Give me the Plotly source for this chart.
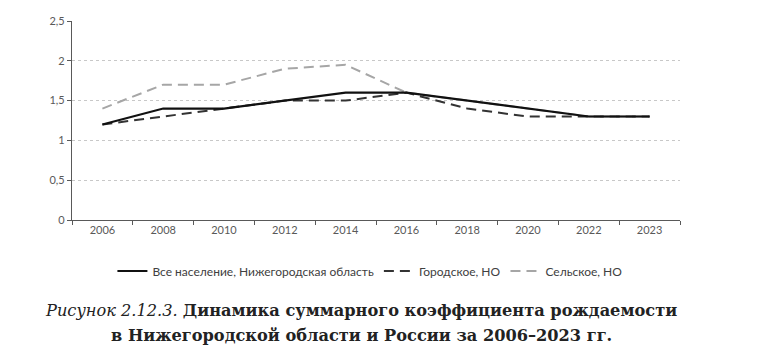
import plotly.graph_objects as go

years = ["2006", "2008", "2010", "2012", "2014", "2016", "2018", "2020", "2022", "2023"]
all_pop = [1.2, 1.4, 1.4, 1.5, 1.6, 1.6, 1.5, 1.4, 1.3, 1.3]
urban = [1.2, 1.3, 1.4, 1.5, 1.5, 1.6, 1.4, 1.3, 1.3, 1.3]
rural = [1.4, 1.7, 1.7, 1.9, 1.95, 1.6, 1.5, 1.4, 1.3, 1.3]
y_ticks = [0, 0.5, 1, 1.5, 2, 2.5]

W, H = 760, 358
L, R, T, B = 72, 80, 21, 138
PW, PH = W - L - R, H - T - B


def px(xf):
    return (xf - L) / PW


def py(yf):
    return (H - B - yf) / PH


fig = go.Figure()
fig.add_trace(go.Scatter(x=years, y=rural, mode="lines", name="Сельское, НО",
                         line=dict(color="#a6a6a6", width=2, dash="10px,6px"), legendrank=3))
fig.add_trace(go.Scatter(x=years, y=urban, mode="lines", name="Городское, НО",
                         line=dict(color="#333333", width=2, dash="10px,6px"), legendrank=2))
fig.add_trace(go.Scatter(x=years, y=all_pop, mode="lines", name="Все население, Нижегородская область",
                         line=dict(color="#111111", width=2.2), legendrank=1))

fig.update_layout(
    width=W, height=H,
    margin=dict(l=L, r=R, t=T, b=B),
    paper_bgcolor="white", plot_bgcolor="white",
    separators=", ",
    font=dict(family="Lato, Open Sans, sans-serif", size=11, color="#404040"),
    showlegend=True,
    legend=dict(orientation="h", x=0.49, xanchor="center", y=py(271), yanchor="middle",
                font=dict(size=12, color="#404040"), traceorder="normal",
                itemwidth=30),
    xaxis=dict(type="category", range=[-0.5, 9.5], showline=True, linecolor="#595959",
               linewidth=1.3, ticks="outside", tickson="boundaries", ticklen=4,
               tickcolor="#595959", showgrid=False, tickfont=dict(size=11, color="#595959")),
    yaxis=dict(range=[0, 2.5], tickvals=y_ticks, showline=True, linecolor="#595959",
               linewidth=1.3, ticks="outside", ticklen=4, tickcolor="#595959",
               showgrid=True, gridcolor="#c8c8c8", griddash="dot", gridwidth=1,
               zeroline=False, tickfont=dict(size=11, color="#595959")),
    annotations=[
        dict(xref="paper", yref="paper", x=px(361), y=py(310),
             xanchor="center", yanchor="middle", showarrow=False,
             text="<i>Рисунок 2.12.3.</i> <b>Динамика суммарного коэффициента рождаемости</b>",
             font=dict(family="DejaVu Serif, Liberation Serif, serif", size=16.2, color="#222222")),
        dict(xref="paper", yref="paper", x=px(361), y=py(335),
             xanchor="center", yanchor="middle", showarrow=False,
             text="<b>в Нижегородской области и России за 2006–2023 гг.</b>",
             font=dict(family="DejaVu Serif, Liberation Serif, serif", size=16.2, color="#222222")),
    ],
)

fig.write_html("out.html",
               config={"displayModeBar": False},
               post_script="document.body.style.margin='0';document.body.style.overflow='hidden';")
